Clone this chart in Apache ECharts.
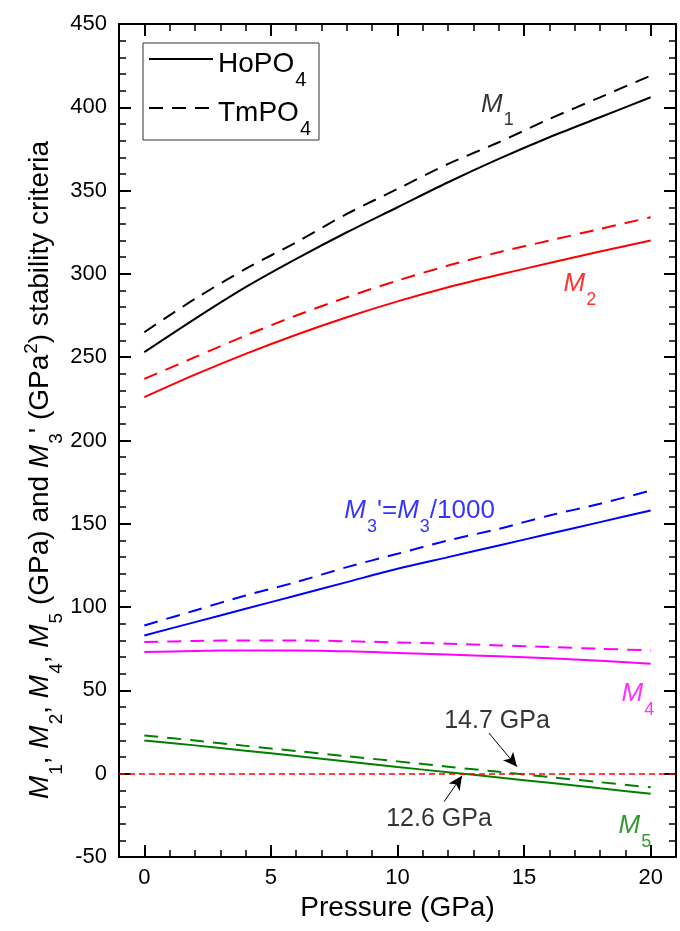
<!DOCTYPE html>
<html>
<head>
<meta charset="utf-8">
<script src="https://cdn.jsdelivr.net/npm/echarts@6/dist/echarts.min.js"></script>
<style>
  html, body { margin: 0; padding: 0; background: #fff; }
  #chart { width: 680px; height: 931px; }
</style>
</head>
<body>
<div id="chart"></div>
<script>
// pressure (GPa) and the stability criteria
const pressure = [0, 2, 4, 6, 8, 10, 12, 14, 16, 18, 20];
const m1Ho = [253, 273, 292, 309, 325, 340, 355, 369, 382, 394, 406];
const m1Tm = [265, 285, 303, 319, 336, 351, 366, 379, 393, 406, 419];
const m2Ho = [226, 239.5, 252, 263.5, 274, 283.5, 292, 299.5, 306.5, 313.5, 320];
const m2Tm = [237, 250, 263, 275, 286, 296, 305, 313, 320, 327, 334];
const m3Ho = [83, 91, 99, 107, 115, 123, 130, 137, 144, 151, 158];
const m3Tm = [89, 98, 107, 115, 124, 132, 140, 147, 155, 162, 170];
const m4Ho = [73, 73.7, 74, 74, 73.5, 72.5, 71.5, 70.5, 69.3, 67.8, 66];
const m4Tm = [79, 79.7, 80, 80, 79.5, 78.8, 78, 77, 76, 75, 74];
const m5Ho = [20, 17, 13.8, 10.6, 7.3, 4.0, 0.9, -2.3, -5.5, -8.8, -12];
const m5Tm = [23, 19.9, 16.7, 13.6, 10.5, 7.4, 4.2, 1.1, -2.0, -5.1, -8.2];

const xMajorTicks = [0, 5, 10, 15, 20];
const xMinorTicks = [1, 2, 3, 4, 6, 7, 8, 9, 11, 12, 13, 14, 16, 17, 18, 19];

const FONT = 'Liberation Sans';

function richSet(size, color) {
  const small = Math.round(size * 0.68);
  return {
    i: { fontSize: size, fontStyle: 'italic', color: color, fontFamily: FONT, lineHeight: size + 4, padding: [4, 0, 0, 0], verticalAlign: 'top' },
    n: { fontSize: size, color: color, fontFamily: FONT, lineHeight: size + 4, padding: [4, 0, 0, 0], verticalAlign: 'top' },
    s: { fontSize: small, color: color, fontFamily: FONT, lineHeight: small, padding: [Math.round(size * 0.75) + 4, 0, 0, 1], verticalAlign: 'top' },
    p: { fontSize: small, color: color, fontFamily: FONT, lineHeight: 14, padding: [0, 0, 0, 1], verticalAlign: 'top' }
  };
}

function curve(name, values, color, dashed) {
  return {
    name: name,
    type: 'line',
    xAxisIndex: 0,
    yAxisIndex: 0,
    data: pressure.map((p, i) => [p, values[i]]),
    symbol: 'none',
    smooth: 0.3,
    silent: true,
    lineStyle: { color: color, width: 2, type: dashed ? [14, 9] : 'solid' },
    itemStyle: { color: color },
    z: 3
  };
}

function note(x, y, text, color, size, pos) {
  return {
    value: [x, y],
    label: {
      show: true,
      position: pos,
      distance: 0,
      formatter: text,
      rich: richSet(size, color)
    }
  };
}

const xBase = { type: 'value', min: -1, max: 21, gridIndex: 0, splitLine: { show: false } };
const blackLine = { color: '#000', width: 2 };
const minorLine = { color: '#000', width: 1.5 };

const yTitle = '{i|M}{s|1}{n|, }{i|M}{s|2}{n|, }{i|M}{s|4}{n|, }{i|M}{s|5}{n| (GPa) and }' +
  '{i|M}{s|3}{n|\' (GPa}{p|2}{n|) stability criteria}';

const chart = echarts.init(document.getElementById('chart'));

chart.setOption({
  animation: false,
  backgroundColor: '#fff',
  grid: { left: 119, top: 24, width: 557, height: 833 },
  legend: {
    data: ['HoPO4', 'TmPO4'],
    orient: 'vertical',
    left: 143,
    top: 43,
    padding: [1, 8, 1, 5],
    itemGap: 3,
    itemWidth: 64,
    itemHeight: 14,
    selectedMode: false,
    borderColor: '#333',
    borderWidth: 1,
    itemStyle: { opacity: 0 },
    formatter: n => '{t|' + n.slice(0, 4) + '}{s|4}',
    textStyle: {
      rich: {
        t: { fontSize: 28, color: '#000', fontFamily: FONT, lineHeight: 30, padding: [6, 0, 0, 0], verticalAlign: 'top' },
        s: { fontSize: 20, color: '#000', fontFamily: FONT, lineHeight: 16, padding: [26, 0, 0, 1], verticalAlign: 'top' }
      }
    }
  },
  xAxis: [
    Object.assign({}, xBase, {
      position: 'bottom',
      axisLine: { onZero: false, lineStyle: blackLine },
      axisTick: { inside: true, length: 12, customValues: xMajorTicks, lineStyle: blackLine },
      axisLabel: { customValues: xMajorTicks, fontSize: 22, color: '#000', fontFamily: FONT, margin: 10 },
      name: 'Pressure (GPa)',
      nameLocation: 'middle',
      nameGap: 32,
      nameTextStyle: { fontSize: 28, color: '#000', fontFamily: FONT }
    }),
    Object.assign({}, xBase, {
      position: 'bottom',
      axisLine: { show: false, onZero: false },
      axisTick: { inside: true, length: 7, customValues: xMinorTicks, lineStyle: minorLine },
      axisLabel: { show: false }
    }),
    Object.assign({}, xBase, {
      position: 'top',
      axisLine: { onZero: false, lineStyle: blackLine },
      axisTick: { inside: true, length: 12, customValues: xMajorTicks, lineStyle: blackLine },
      axisLabel: { show: false }
    }),
    Object.assign({}, xBase, {
      position: 'top',
      axisLine: { show: false, onZero: false },
      axisTick: { inside: true, length: 7, customValues: xMinorTicks, lineStyle: minorLine },
      axisLabel: { show: false }
    })
  ],
  yAxis: [
    {
      type: 'value', min: -50, max: 450, interval: 50, position: 'left',
      axisLine: { show: true, onZero: false, lineStyle: blackLine },
      axisTick: { inside: true, length: 12, lineStyle: blackLine },
      minorTick: { show: true, splitNumber: 5, length: 7, lineStyle: minorLine },
      axisLabel: { fontSize: 22, color: '#000', fontFamily: FONT, margin: 12 },
      splitLine: { show: false }
    },
    {
      type: 'value', min: -50, max: 450, interval: 50, position: 'right',
      axisLine: { show: true, onZero: false, lineStyle: blackLine },
      axisTick: { inside: true, length: 12, lineStyle: blackLine },
      minorTick: { show: true, splitNumber: 5, length: 7, lineStyle: minorLine },
      axisLabel: { show: false },
      splitLine: { show: false }
    }
  ],
  graphic: [{
    type: 'text',
    x: 38,
    y: 470,
    rotation: Math.PI / 2,
    style: {
      text: yTitle,
      align: 'center',
      verticalAlign: 'middle',
      rich: richSet(28, '#000')
    }
  }],
  series: [
    curve('HoPO4', m1Ho, '#000', false),
    curve('TmPO4', m1Tm, '#000', true),
    curve('M2 HoPO4', m2Ho, '#ff0000', false),
    curve('M2 TmPO4', m2Tm, '#ff0000', true),
    curve('M3 HoPO4', m3Ho, '#0000ff', false),
    curve('M3 TmPO4', m3Tm, '#0000ff', true),
    curve('M4 HoPO4', m4Ho, '#ff00ff', false),
    curve('M4 TmPO4', m4Tm, '#ff00ff', true),
    Object.assign(curve('M5 HoPO4', m5Ho, '#008000', false), {
      markLine: {
        silent: true,
        symbol: 'none',
        label: { show: false },
        lineStyle: { color: '#ff0000', width: 1.5, type: [6, 4] },
        data: [{ yAxis: 0 }]
      }
    }),
    curve('M5 TmPO4', m5Tm, '#008000', true),
    {
      name: 'notes',
      type: 'scatter',
      xAxisIndex: 0,
      yAxisIndex: 0,
      symbolSize: 0,
      silent: true,
      z: 5,
      data: [
        note(13.3, 403, '{i|M}{s|1}', '#000', 26, 'right'),
        note(16.56, 295, '{i|M}{s|2}', '#ff0000', 26, 'right'),
        note(7.9, 159, '{i|M}{s|3}{n|\'=}{i|M}{s|3}{n|/1000}', '#0000ff', 26, 'right'),
        note(18.85, 49, '{i|M}{s|4}', '#ff00ff', 26, 'right'),
        note(18.73, -30, '{i|M}{s|5}', '#008000', 26, 'right'),
        note(13.93, 33, '{n|14.7 GPa}', '#000', 25, 'inside'),
        note(11.64, -25.8, '{n|12.6 GPa}', '#000', 25, 'inside')
      ],
      markLine: {
        silent: true,
        symbol: ['none', 'arrow'],
        symbolSize: [10, 14],
        label: { show: false },
        lineStyle: { color: '#000', width: 1, type: 'solid' },
        data: [
          [{ coord: [13.61, 24.4] }, { coord: [14.72, 4.2] }],
          [{ coord: [11.84, -16.8] }, { coord: [12.55, -1.2] }]
        ]
      }
    }
  ]
});
</script>
</body>
</html>
